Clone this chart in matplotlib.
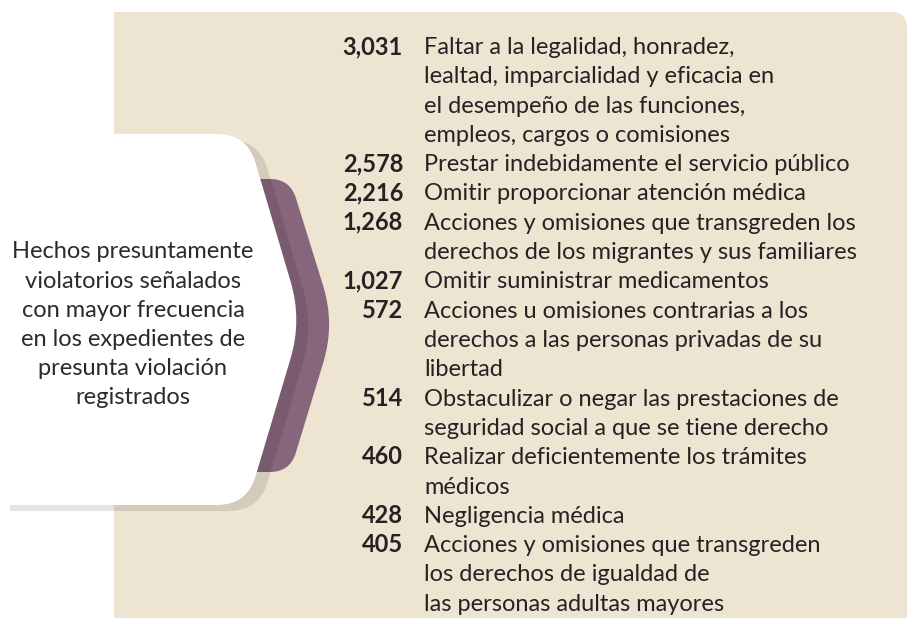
import matplotlib
matplotlib.use("Agg")
import matplotlib.pyplot as plt
from matplotlib.path import Path
from matplotlib.patches import PathPatch
import numpy as np

# ---- data ----
values = ["3,031", "2,578", "2,216", "1,268", "1,027", "572", "514", "460", "428", "405"]
labels = [
    "Faltar a la legalidad, honradez,\nlealtad, imparcialidad y eficacia en\nel desempeño de las funciones,\nempleos, cargos o comisiones",
    "Prestar indebidamente el servicio público",
    "Omitir proporcionar atención médica",
    "Acciones y omisiones que transgreden los\nderechos de los migrantes y sus familiares",
    "Omitir suministrar medicamentos",
    "Acciones u omisiones contrarias a los\nderechos a las personas privadas de su\nlibertad",
    "Obstaculizar o negar las prestaciones de\nseguridad social a que se tiene derecho",
    "Realizar deficientemente los trámites\nmédicos",
    "Negligencia médica",
    "Acciones y omisiones que transgreden\nlos derechos de igualdad de\nlas personas adultas mayores",
]
title_lines = ["Hechos presuntamente", "violatorios señalados", "con mayor frecuencia",
               "en los expedientes de", "presunta violación", "registrados"]

BEIGE = "#EDE4D1"
PURPLE = "#87657B"
TEXT = "#262223"
FONT = ["Lato", "DejaVu Sans"]
FS = 17

W, H = 907, 625
fig = plt.figure(figsize=(W / 100, H / 100), dpi=100)
ax = fig.add_axes([0, 0, 1, 1])
ax.set_xlim(0, W)
ax.set_ylim(H, 0)
ax.axis("off")


def rounded_path(pts, radii):
    pts = [np.array(p, float) for p in pts]
    n = len(pts)
    verts, codes = [], []
    for i in range(n):
        p = pts[i]
        r = radii[i]
        prev = pts[i - 1]
        nxt = pts[(i + 1) % n]
        if r > 0:
            d1 = (prev - p) / np.linalg.norm(prev - p)
            d2 = (nxt - p) / np.linalg.norm(nxt - p)
            a = p + d1 * r
            b = p + d2 * r
            verts.append(a); codes.append(Path.MOVETO if not verts[:-1] else Path.LINETO)
            verts += [p, b]
            codes += [Path.CURVE3, Path.CURVE3]
        else:
            verts.append(p); codes.append(Path.MOVETO if not verts[:-1] else Path.LINETO)
    verts.append(verts[0]); codes.append(Path.CLOSEPOLY)
    return Path(verts, codes)


# beige panel
panel = rounded_path([(114, 12), (907, 12), (907, 618), (114, 618)], [0, 16, 0, 0])
ax.add_patch(PathPatch(panel, facecolor=BEIGE, edgecolor="none", zorder=1))

# purple chevron
purple = rounded_path([(150, 179), (290, 179), (335, 324), (290, 472), (150, 472)],
                      [0, 20, 40, 20, 0])
ax.add_patch(PathPatch(purple, facecolor=PURPLE, edgecolor="none", zorder=2))

# white shape and its shadow
white_pts = [(-2, 134), (247, 134), (302, 320), (247, 505), (-2, 505)]
white_r = [0, 30, 40, 30, 0]
dx, dy = 12, 6
shadow = rounded_path([(x + dx, y + dy) for x, y in white_pts], white_r)
ax.add_patch(PathPatch(shadow, facecolor="black", alpha=0.10, edgecolor="none", zorder=3))
white = rounded_path(white_pts, white_r)
ax.add_patch(PathPatch(white, facecolor="white", edgecolor="none", zorder=4))

# left title text (one line each, centred)
t_y0, t_step = 252, 29.2
for i, s in enumerate(title_lines):
    ax.text(133, t_y0 + t_step * i, s, ha="center", va="center", fontsize=FS,
            color="#2B2B2B", family=FONT, zorder=5)

# list
y0 = 54
step = 29.3
line = 0
for v, lab in zip(values, labels):
    yb = y0 + step * line
    ax.text(403, yb, v, ha="right", va="baseline", fontsize=FS, fontweight="bold",
            color=TEXT, family=FONT, zorder=5)
    subs = lab.split("\n")
    for k, sub in enumerate(subs):
        ax.text(424, y0 + step * (line + k), sub, ha="left", va="baseline", fontsize=FS,
                color=TEXT, family=FONT, zorder=5)
    line += len(subs)

fig.savefig("out.png", dpi=100, facecolor="white")
